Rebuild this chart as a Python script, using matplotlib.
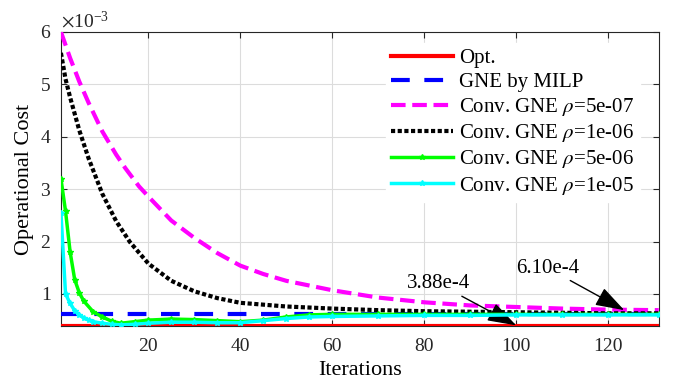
import matplotlib

matplotlib.use("Agg")
import matplotlib.pyplot as plt
import numpy as np

plt.rcParams["font.family"] = ["Liberation Serif", "DejaVu Serif"]
plt.rcParams["mathtext.fontset"] = "stix"

# values in units of 1e-3
SCALE = 1e-3
n_iter = 131
opt_value = 0.388
milp_value = 0.610

mag_x = [1, 3, 5, 7, 10, 13, 15, 18, 20, 25, 30, 35, 40, 45, 50, 60, 70, 80, 90, 100, 110, 120, 131]
mag_y = [6.00, 5.50, 5.05, 4.65, 4.10, 3.66, 3.40, 3.05, 2.86, 2.40, 2.07, 1.78, 1.54, 1.38, 1.25, 1.07, 0.93, 0.84, 0.78, 0.75, 0.72, 0.70, 0.69]

blk_x = [1, 2, 3, 5, 7, 10, 13, 16, 20, 25, 30, 35, 40, 50, 60, 70, 80, 90, 100, 110, 120, 131]
blk_y = [5.60, 5.10, 4.75, 4.12, 3.59, 2.91, 2.39, 1.99, 1.58, 1.25, 1.05, 0.92, 0.83, 0.76, 0.72, 0.69, 0.67, 0.66, 0.65, 0.64, 0.63, 0.63]

grn_x = [1, 2, 3, 4, 5, 6, 8, 10, 12, 14, 17, 20, 25, 30, 35, 40, 45, 50, 55, 60, 70, 80, 90, 100, 110, 120, 131]
grn_y = [3.20, 2.58, 1.80, 1.27, 1.02, 0.86, 0.66, 0.56, 0.48, 0.44, 0.47, 0.50, 0.52, 0.51, 0.49, 0.47, 0.50, 0.56, 0.60, 0.61, 0.61, 0.61, 0.61, 0.61, 0.61, 0.61, 0.61]

cyn_x = [1, 2, 3, 4, 5, 6, 7, 8, 10, 12, 14, 17, 20, 25, 30, 35, 40, 45, 50, 55, 60, 70, 80, 90, 100, 110, 120, 131]
cyn_y = [2.55, 1.00, 0.82, 0.68, 0.60, 0.54, 0.50, 0.47, 0.44, 0.42, 0.41, 0.42, 0.44, 0.46, 0.46, 0.45, 0.45, 0.49, 0.53, 0.56, 0.57, 0.58, 0.59, 0.59, 0.60, 0.60, 0.60, 0.60]

labels = ["Opt.", "GNE by MILP", r"Conv. GNE $\rho$=5e-07", r"Conv. GNE $\rho$=1e-06",
          r"Conv. GNE $\rho$=5e-06", r"Conv. GNE $\rho$=1e-05"]

fig = plt.figure(figsize=(6.77, 3.89), dpi=100)
ax = fig.add_axes([0.090, 0.162, 0.883, 0.756])

iters = np.arange(1, n_iter + 1)
ax.plot(iters, np.full(n_iter, opt_value) * SCALE, color="#ff0000", lw=3.0, label=labels[0], zorder=3)
ax.plot(iters, np.full(n_iter, milp_value) * SCALE, color="#0000ff", lw=3.0, dashes=(4.5, 3.5), label=labels[1], zorder=3)
ax.plot(mag_x, np.array(mag_y) * SCALE, color="#ff00ff", lw=3.0, dashes=(3.5, 1.6), label=labels[2], zorder=3)
ax.plot(blk_x, np.array(blk_y) * SCALE, color="black", lw=3.0, dashes=(1.0, 0.6), label=labels[3], zorder=3)
ax.plot(grn_x, np.array(grn_y) * SCALE, color="#00ff00", lw=2.5, marker="*", ms=4, label=labels[4], zorder=4)
ax.plot(cyn_x, np.array(cyn_y) * SCALE, color="#00ffff", lw=2.5, marker="*", ms=4, label=labels[5], zorder=5)

ax.set_xlim(1, 131)
ax.set_ylim(opt_value * SCALE, 6.0 * SCALE)
ax.set_xticks([20, 40, 60, 80, 100, 120])
ax.set_yticks(np.arange(1, 7) * SCALE)
ax.ticklabel_format(axis="y", style="sci", scilimits=(-3, -3), useMathText=True)
ax.yaxis.get_offset_text().set_fontsize(14)
ax.grid(True, color="#dcdcdc", lw=0.8)
ax.tick_params(direction="in", top=True, right=True, labelsize=14, colors="#262626", length=4)
ax.tick_params(axis="x", pad=9)
ax.tick_params(axis="y", pad=7)
for side in ax.spines.values():
    side.set_color("#262626")
    side.set_linewidth(0.8)

ax.set_xlabel("Iterations", fontsize=16, labelpad=4)
ax.set_ylabel("Operational Cost", fontsize=16, labelpad=4)

leg = ax.legend(loc="upper left", bbox_to_anchor=(0.543, 0.961), fontsize=15, handlelength=3.0,
                labelspacing=0.2, handletextpad=0.3, borderpad=0.25, borderaxespad=0.0,
                frameon=True, fancybox=False)
leg.get_frame().set_edgecolor("white")
leg.get_frame().set_facecolor("white")
leg.get_frame().set_alpha(1.0)

arrow = dict(arrowstyle="-|>,head_length=0.9,head_width=0.3", color="black", lw=1.0,
             shrinkA=0, shrinkB=0, mutation_scale=20)
ax.annotate("3.88e-4", xy=(100, 0.40 * SCALE), xytext=(83.2, 1.19 * SCALE), fontsize=15,
            ha="center", va="center", arrowprops=arrow)
ax.annotate("6.10e-4", xy=(123.5, 0.69 * SCALE), xytext=(106.9, 1.49 * SCALE), fontsize=15,
            ha="center", va="center", arrowprops=arrow)

fig.savefig("out.png", dpi=100)
